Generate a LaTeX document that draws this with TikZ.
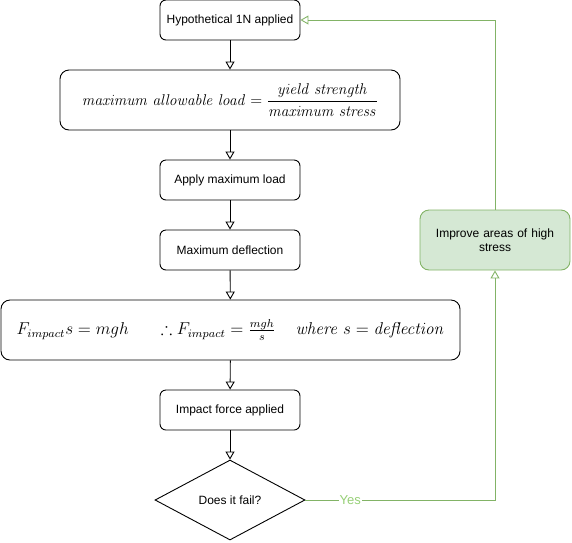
\documentclass[tikz,border=0pt]{standalone}
\usepackage{amsmath,amssymb}
\usepackage{graphicx}
\usepackage[no-math]{fontspec}
\setmainfont{Liberation Sans}
\usetikzlibrary{shapes.geometric,arrows.meta}
\definecolor{gfill}{HTML}{D5E8D4}
\definecolor{gline}{HTML}{82B366}
\definecolor{gtext}{HTML}{97D077}
\tikzset{
  box/.style={draw=black, line width=0.9pt, rounded corners=6pt, fill=white, align=center, inner sep=0pt,
    font=\fontsize{12}{14}\selectfont},
  conn/.style={line width=0.9pt, -{Triangle[open,length=8pt,width=9pt]}},
}
\begin{document}
\begin{tikzpicture}[x=1pt,y=-1pt]
\useasboundingbox (0,0) rectangle (572,542);
\node[box, minimum width=140pt, minimum height=40pt] (hyp) at (230,20) {Hypothetical 1N applied};
\node[box, minimum width=340pt, minimum height=60pt, rounded corners=9pt] (mal) at (230,100)
  {\scalebox{1.3}{$\mathit{maximum\ allowable\ load}=\dfrac{\mathit{yield\ strength}}{\mathit{maximum\ stress}}$}};
\node[box, minimum width=140pt, minimum height=40pt] (aml) at (230,180) {Apply maximum load};
\node[box, minimum width=140pt, minimum height=40pt] (mdf) at (230,250) {Maximum deflection};
\node[box, minimum width=459pt, minimum height=60pt, rounded corners=9pt] (imp) at (230.5,330)
  {\scalebox{1.43}{$F_{impact}s=mgh\hspace{19pt}\therefore F_{impact}=\frac{mgh}{s}\hspace{14pt}\mathit{where}\ s=\mathit{deflection}$}};
\node[box, minimum width=140pt, minimum height=40pt] (ifa) at (230,410) {Impact force applied};
\node[draw=black, line width=0.9pt, diamond, aspect=1.875, minimum width=150pt, minimum height=80pt, inner sep=0pt,
  font=\fontsize{12}{14}\selectfont] (dia) at (230,500) {Does it fail?};
\node[box, draw=gline, fill=gfill, minimum width=150pt, minimum height=60pt, rounded corners=9pt, text width=140pt] (ias) at (495,240)
  {Improve areas of high\\stress};
\draw[conn] (hyp) -- (mal);
\draw[conn] (mal) -- (aml);
\draw[conn] (aml) -- (mdf);
\draw[conn] (mdf) -- (imp);
\draw[conn] (imp) -- (ifa);
\draw[conn] (ifa) -- (dia);
\draw[conn, draw=gline] (dia.east) -| node[pos=0.118, fill=white, text=gtext, inner sep=1pt, font=\fontsize{13}{15}\selectfont] {Yes} (ias.south);
\draw[conn, draw=gline] (ias.north) |- (hyp.east);
\end{tikzpicture}
\end{document}
